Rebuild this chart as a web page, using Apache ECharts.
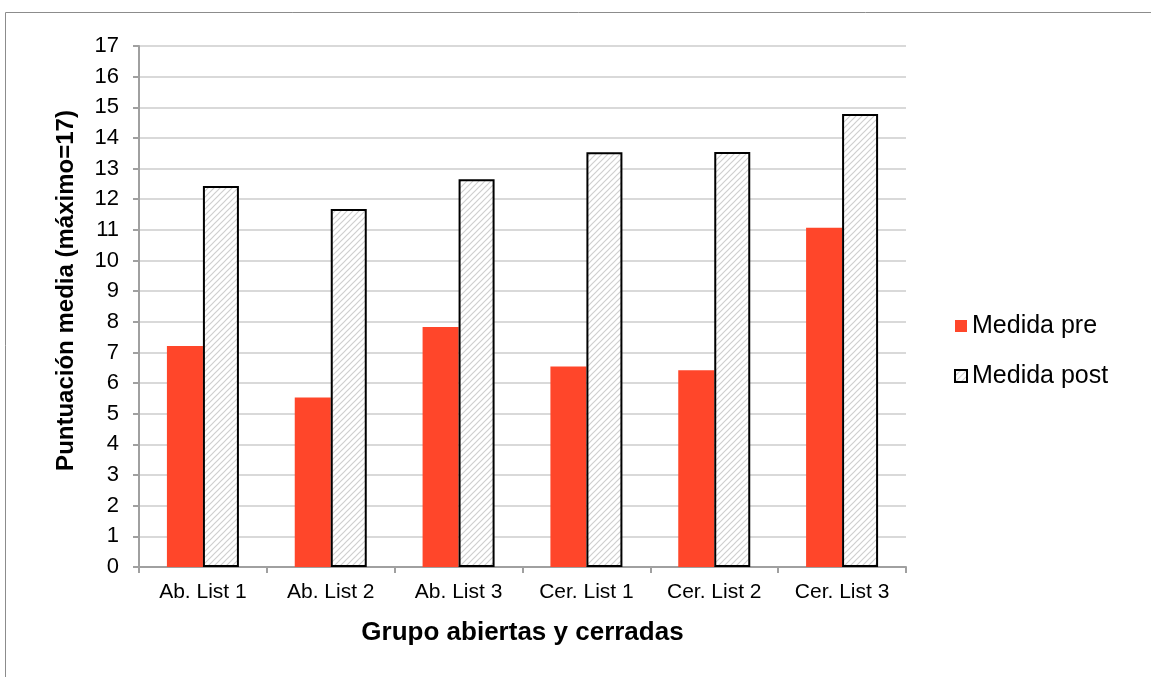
<!DOCTYPE html>
<html>
<head>
<meta charset="utf-8">
<script src="https://cdn.jsdelivr.net/npm/echarts@6/dist/echarts.min.js"></script>
<style>
html,body{margin:0;padding:0;background:#fff;}
#chart{width:1151px;height:677px;}
</style>
</head>
<body>
<div id="chart"></div>
<script>
var categories = ['Ab. List 1', 'Ab. List 2', 'Ab. List 3', 'Cer. List 1', 'Cer. List 2', 'Cer. List 3'];
var preValues = [7.21, 5.53, 7.83, 6.54, 6.42, 11.07];
var postValues = [12.43, 11.68, 12.65, 13.53, 13.54, 14.78];
var seriesNames = ['Medida pre', 'Medida post'];
var yTicks = { min: 0, max: 17, interval: 1 };

function hatch() {
  var c = document.createElement('canvas');
  c.width = 6; c.height = 6;
  var g = c.getContext('2d');
  g.fillStyle = '#ffffff';
  g.fillRect(0, 0, 6, 6);
  g.strokeStyle = '#cfcfcf';
  g.lineWidth = 1.2;
  g.beginPath();
  g.moveTo(-1, 7); g.lineTo(7, -1);
  g.moveTo(-1, 1); g.lineTo(1, -1);
  g.moveTo(5, 7); g.lineTo(7, 5);
  g.stroke();
  return c;
}

var chart = echarts.init(document.getElementById('chart'), null, { renderer: 'canvas' });
var font = 'Liberation Sans, Arial, sans-serif';
chart.setOption({
  animation: false,
  textStyle: { fontFamily: font },
  graphic: [{
    type: 'rect', left: 3, top: 10,
    shape: { width: 1300, height: 800 },
    style: { fill: 'none', stroke: '#8c8c8c', lineWidth: 1 },
    silent: true
  }],
  grid: { left: 139, right: 245, top: 46, bottom: 110, containLabel: false },
  legend: {
    orient: 'vertical', left: 954, top: 311, itemGap: 20, padding: 0,
    itemWidth: 12, itemHeight: 12, icon: 'rect',
    textStyle: { fontSize: 25, lineHeight: 30, color: '#000', fontFamily: font },
    data: seriesNames
  },
  xAxis: {
    type: 'category', data: categories,
    name: 'Grupo abiertas y cerradas', nameLocation: 'middle', nameGap: 53,
    nameTextStyle: { fontSize: 26, fontWeight: 'bold', color: '#000', fontFamily: font },
    axisLine: { lineStyle: { color: '#a0a0a0', width: 2 } },
    axisTick: { show: true, length: 6, lineStyle: { color: '#a0a0a0', width: 2 }, alignWithLabel: false },
    axisLabel: { fontSize: 21, color: '#000', margin: 15, fontFamily: font }
  },
  yAxis: {
    type: 'value', min: yTicks.min, max: yTicks.max, interval: yTicks.interval,
    name: 'Puntuación media (máximo=17)', nameLocation: 'middle', nameGap: 61,
    nameTextStyle: { fontSize: 24, fontWeight: 'bold', color: '#000', fontFamily: font, padding: [0, 0, 0, 32] },
    axisLine: { show: true, lineStyle: { color: '#a0a0a0', width: 2 } },
    axisTick: { show: true, length: 6, lineStyle: { color: '#a0a0a0', width: 2 } },
    axisLabel: { fontSize: 22, color: '#000', margin: 20, fontFamily: font },
    splitLine: { lineStyle: { color: '#d9d9d9', width: 2 } }
  },
  series: [{
    name: seriesNames[0], type: 'bar', data: preValues,
    barWidth: 36, barGap: '0%',
    itemStyle: { color: '#ff462a' }
  }, {
    name: seriesNames[1], type: 'bar', data: postValues,
    barWidth: 36,
    itemStyle: { color: { image: hatch(), repeat: 'repeat' }, borderColor: '#000', borderWidth: 2 }
  }]
});
</script>
</body>
</html>
